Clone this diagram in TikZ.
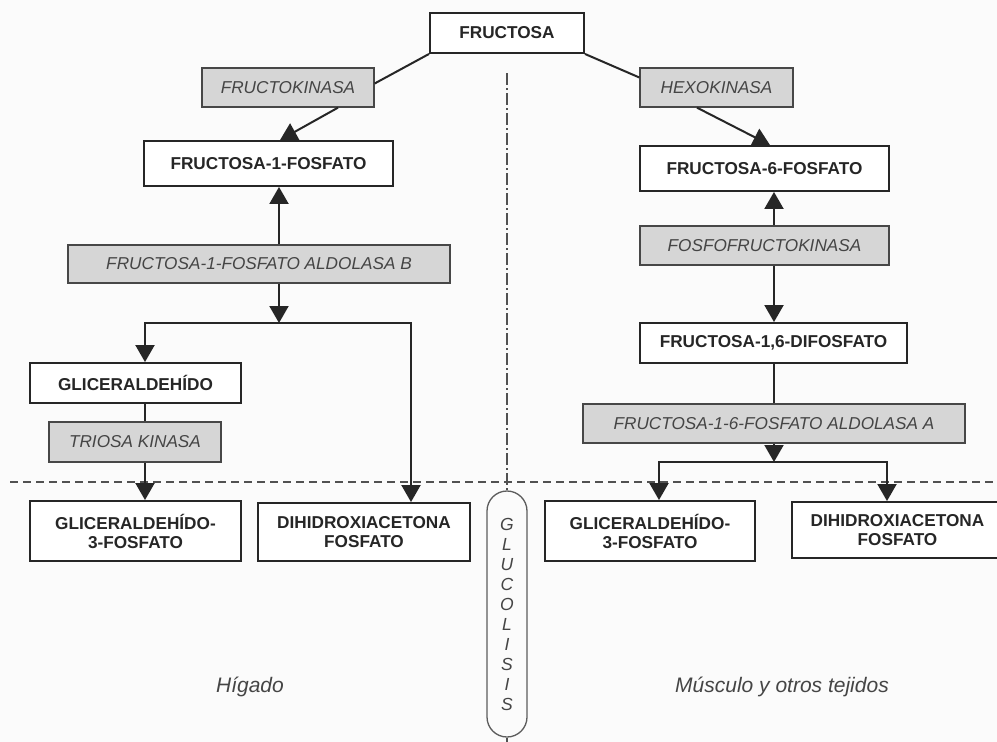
\documentclass[tikz,border=0pt]{standalone}
\usepackage{fontspec}
\setmainfont{Liberation Sans}
\usetikzlibrary{arrows.meta,calc}

\definecolor{ink}{HTML}{262626}
\definecolor{enzfill}{HTML}{D6D6D6}
\definecolor{enztext}{HTML}{454545}
\definecolor{paper}{HTML}{FBFBFB}

\begin{document}
\begin{tikzpicture}[x=1pt,y=1pt,yscale=-1,xscale=1,
		metab/.style={draw=ink, line width=1.9pt, fill=white, text=ink, align=center, inner sep=0pt,
			font=\fontsize{17.2}{19}\selectfont\bfseries},
		enzyme/.style={draw=ink!85, line width=1.3pt, fill=enzfill, text=enztext, inner sep=0pt,
			font=\fontsize{17.2}{19}\selectfont\itshape},
		link/.style={draw=ink, line width=2pt},
		flow/.style={link, -{Triangle[width=19pt,length=17pt]}},
		region/.style={text=enztext, font=\fontsize{21}{24}\selectfont\itshape}]
		% Page frame
		\fill[paper] (0,0) rectangle (997,742);
		\useasboundingbox (0,0) rectangle (997,742);

		% Separators: horizontal dashed line and the dash-dot axis
		\draw[ink!80, line width=1.2pt, dash pattern=on 8pt off 5pt] (10,482) -- (997,482);
		\coordinate (axisTop) at (507,73);

		% Starting sugar
		\node[metab, minimum width=154pt, minimum height=40pt] (fru) at (507,33) {FRUCTOSA};

		% Liver branch
		\node[enzyme, minimum width=172pt, minimum height=39pt] (fk) at (288,87.5) {FRUCTOKINASA};
		\node[metab, minimum width=249pt, minimum height=45pt] (f1p) at (268.5,163.5) {FRUCTOSA-1-FOSFATO};
		\node[enzyme, minimum width=382pt, minimum height=38pt] (aldB) at (259,264) {FRUCTOSA-1-FOSFATO ALDOLASA B};
		\node[metab, minimum width=211pt, minimum height=40pt] (glic) at (135.5,383) {GLICERALDEHÍDO};
		\node[enzyme, minimum width=172pt, minimum height=40pt] (tk) at (135,442) {TRIOSA KINASA};
		\node[metab, minimum width=211pt, minimum height=60pt] (g3pL) at (135.5,531) {GLICERALDEHÍDO-\\3-FOSFATO};
		\node[metab, minimum width=212pt, minimum height=58pt] (dhapL) at (364,532) {DIHIDROXIACETONA\\FOSFATO};

		% Muscle branch
		\node[enzyme, minimum width=153pt, minimum height=39pt] (hk) at (716.5,87.5) {HEXOKINASA};
		\node[metab, minimum width=249pt, minimum height=45pt] (f6p) at (764.5,168.5) {FRUCTOSA-6-FOSFATO};
		\node[enzyme, minimum width=249pt, minimum height=39pt] (pfk) at (764.5,245.5) {FOSFOFRUCTOKINASA};
		\node[metab, minimum width=267pt, minimum height=40pt] (f16dp) at (773.5,343) {FRUCTOSA-1,6-DIFOSFATO};
		\node[enzyme, minimum width=382pt, minimum height=39pt] (aldA) at (774,423.5) {FRUCTOSA-1-6-FOSFATO ALDOLASA A};
		\node[metab, minimum width=210pt, minimum height=60pt] (g3pR) at (650,531) {GLICERALDEHÍDO-\\3-FOSFATO};
		\node[metab, minimum width=211pt, minimum height=56pt] (dhapR) at (897.5,530) {DIHIDROXIACETONA\\FOSFATO};

		% Glycolysis capsule on the axis
		\node[draw=ink!75, line width=1.3pt, rounded corners=20pt, minimum width=40pt, minimum height=246pt,
			inner sep=0pt, align=center, text=enztext, font=\fontsize{17.5}{20}\selectfont\itshape]
			(gluc) at (507,614) {G\\L\\U\\C\\O\\L\\I\\S\\I\\S};
		\draw[ink!80, line width=1.2pt, dash pattern=on 12pt off 3pt on 2pt off 3pt] (axisTop) -- (gluc.north);
		\draw[ink!80, line width=1.2pt] (gluc.south) -- ++(0,6);

		% Tissue labels
		\node[region] (liver) at (250,687) {Hígado};
		\node[region] (muscle) at (782,687) {Músculo y otros tejidos};

		% Fructose to the two kinases
		\draw[link] (fru.south west) -- ($(fk.east)+(0,-4)$);
		\draw[link] (fru.south east) -- ($(hk.west)+(0,-10)$);
		\draw[flow] ([xshift=50pt]fk.south) -- ([xshift=11.5pt]f1p.north);
		\draw[flow] ([xshift=-19.5pt]hk.south) -- ([xshift=5.5pt]f6p.north);

		% Aldolase B split (liver)
		\coordinate (splitB) at (279,323);
		\draw[flow] (aldB.north -| splitB) -- (f1p.south -| splitB);
		\draw[flow] (aldB.south -| splitB) -- (splitB);
		\draw[flow] (splitB) -| ([xshift=9.5pt]glic.north);
		\draw[flow] (splitB) -| ([xshift=47pt]dhapL.north);
		\draw[link] ([xshift=9.5pt]glic.south) -- ([xshift=10pt]tk.north);
		\draw[flow] ([xshift=10pt]tk.south) -- ([xshift=9.5pt]g3pL.north);

		% Phosphofructokinase and aldolase A split (muscle)
		\coordinate (splitA) at (774,462);
		\draw[flow] (pfk.north -| splitA) -- (f6p.south -| splitA);
		\draw[flow] (pfk.south -| splitA) -- (f16dp.north -| splitA);
		\draw[link] (f16dp.south -| splitA) -- (aldA.north -| splitA);
		\draw[flow] (aldA.south -| splitA) -- (splitA);
		\draw[flow] (splitA) -| ([xshift=9pt]g3pR.north);
		\draw[flow] (splitA) -| ([xshift=-10.5pt]dhapR.north);
	\end{tikzpicture}
\end{document}
